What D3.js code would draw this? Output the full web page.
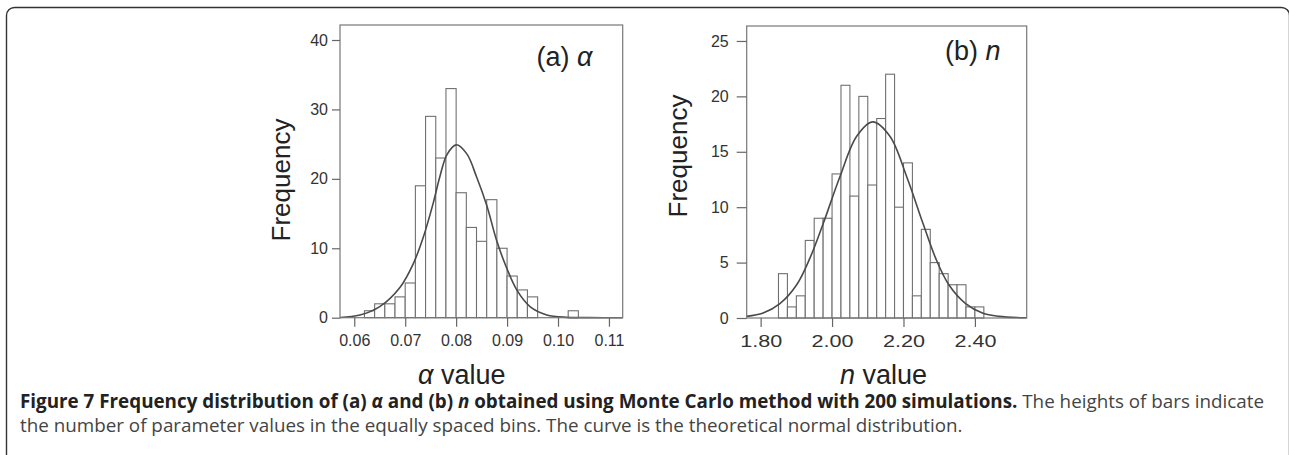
<!DOCTYPE html>
<html><head><meta charset="utf-8">
<script src="https://cdn.jsdelivr.net/npm/d3@7/dist/d3.min.js"></script>
<style>
body{margin:0;background:#fff;}
svg{display:block;}
</style>
</head><body>
<svg id="chart" width="1289" height="455"></svg>
<script>
// ---------- data ----------
// (a) alpha histogram: bin starts (bin width 0.002) and counts
const alphaBinStarts = [0.062,0.064,0.066,0.068,0.070,0.072,0.074,0.076,0.078,0.080,0.082,0.084,0.086,0.088,0.090,0.092,0.094,0.102];
const alphaCounts    = [1,2,2,3,5,19,29,23,33,18,13,11,17,10,6,4,3,1];
const alphaBinWidth  = 0.002;
// fitted normal curve
const alphaCurveX = [0.0572,0.0611,0.0650,0.0690,0.0716,0.0736,0.0755,0.0768,0.0782,0.0800,0.0821,0.0840,0.0860,0.0880,0.0899,0.0919,0.0945,0.0978,0.1017,0.1060,0.1127];
const alphaCurveY = [0.03,0.38,1.6,4.4,7.8,11.7,16.5,20.3,23.5,24.9,23.6,20.3,16.2,11.0,7.2,4.0,1.6,0.4,0.05,0.01,0];
const alphaXTicks = [0.06,0.07,0.08,0.09,0.10,0.11];
const alphaXTickLabels = ["0.06","0.07","0.08","0.09","0.10","0.11"];
const alphaYTicks = [0,10,20,30,40];

// (b) n histogram: bin starts (bin width 0.025) and counts
const nBinStarts = [1.850,1.875,1.900,1.925,1.950,1.975,2.000,2.025,2.050,2.075,2.100,2.125,2.150,2.175,2.200,2.225,2.250,2.275,2.300,2.325,2.350,2.375,2.400];
const nCounts    = [4,1,2,7,9,9,13,21,11,20,12,18,22,10,14,2,8,5,4,3,3,1,1];
const nBinWidth  = 0.025;
const nCurveX = [1.761,1.807,1.854,1.901,1.938,1.975,2.022,2.069,2.114,2.162,2.209,2.255,2.290,2.327,2.374,2.421,2.467,2.545];
const nCurveY = [0.15,0.45,1.3,3.0,5.4,8.5,12.75,16.4,17.7,16.4,12.75,8.5,5.4,3.0,1.3,0.45,0.15,0.02];
const nXTicks = [1.80,2.00,2.20,2.40];
const nXTickLabels = ["1.80","2.00","2.20","2.40"];
const nYTicks = [0,5,10,15,20,25];

// ---------- drawing ----------
const svg = d3.select("#chart");
const FONT = "'Liberation Sans', Arial, sans-serif";
const TXT = "#333";

// outer rounded frame
svg.append("rect")
  .attr("x",6.5).attr("y",7.5).attr("width",1283).attr("height",480)
  .attr("rx",8).attr("ry",8)
  .attr("fill","none").attr("stroke","#333").attr("stroke-width",1.4);

function panel(cfg){
  const g = svg.append("g");
  const x = d3.scaleLinear().domain(cfg.xDomain).range([cfg.left, cfg.right]);
  const y = d3.scaleLinear().domain(cfg.yDomain).range([cfg.bottom, cfg.top]);

  // bars
  g.append("g").selectAll("rect").data(cfg.binStarts).join("rect")
    .attr("x",(d)=>x(d))
    .attr("width",(d)=>x(d+cfg.binWidth)-x(d))
    .attr("y",(d,i)=>y(cfg.counts[i]))
    .attr("height",(d,i)=>y(0)-y(cfg.counts[i]))
    .attr("fill","#fff").attr("stroke","#707070").attr("stroke-width",1.1);

  // curve
  const pts = cfg.curveX.map((v,i)=>[v,cfg.curveY[i]]);
  g.append("path").datum(pts)
    .attr("d", d3.line().x(d=>x(d[0])).y(d=>y(d[1])).curve(d3.curveCatmullRom.alpha(0.5)))
    .attr("fill","none").attr("stroke","#4a4a4a").attr("stroke-width",1.6);

  // frame
  g.append("rect")
    .attr("x",cfg.left).attr("y",cfg.top)
    .attr("width",cfg.right-cfg.left).attr("height",cfg.bottom-cfg.top)
    .attr("fill","none").attr("stroke","#777").attr("stroke-width",1.2);

  // axes
  const ax = g.append("g").attr("transform",`translate(0,${cfg.bottom})`)
    .call(d3.axisBottom(x).tickValues(cfg.xTicks)
      .tickFormat((d,i)=>cfg.xTickLabels[i]).tickSize(cfg.xTickSize).tickPadding(cfg.xTickPad).tickSizeOuter(0));
  const ay = g.append("g").attr("transform",`translate(${cfg.left},0)`)
    .call(d3.axisLeft(y).tickValues(cfg.yTicks).tickSize(cfg.yTickSize).tickPadding(cfg.yTickPad).tickSizeOuter(0));
  [ax,ay].forEach(a=>{
    a.select(".domain").remove();
    a.selectAll(".tick line").attr("stroke","#666").attr("stroke-width",1.2);
    a.selectAll(".tick text").attr("fill",TXT).style("font-family",FONT).style("font-size",cfg.tickFont+"px");
  });
  if (cfg.xLabelWidth) {
    ax.selectAll(".tick text").attr("textLength",cfg.xLabelWidth).attr("lengthAdjust","spacingAndGlyphs");
  }

  // panel label
  const lab = g.append("text").attr("x",cfg.labelX).attr("y",cfg.labelY)
    .attr("fill","#222").style("font-family",FONT).style("font-size","27px");
  lab.append("tspan").text(cfg.labelPrefix);
  lab.append("tspan").style("font-style","italic").text(cfg.labelSym);

  // x title
  const xt = g.append("text").attr("x",cfg.xTitleX).attr("y",cfg.xTitleY)
    .attr("fill","#222").style("font-family",FONT).style("font-size","27px");
  xt.append("tspan").style("font-style","italic").text(cfg.labelSym);
  xt.append("tspan").text(" value");

  // y title
  g.append("text")
    .attr("transform",`translate(${cfg.yTitleX},${cfg.yTitleY}) rotate(-90)`)
    .attr("text-anchor","middle")
    .attr("fill","#222").style("font-family",FONT).style("font-size","26px")
    .text("Frequency");
}

panel({
  left:340, right:622.7, top:25, bottom:317.7,
  xDomain:[0.0572,0.1127], yDomain:[0,42.16],
  binStarts:alphaBinStarts, counts:alphaCounts, binWidth:alphaBinWidth,
  curveX:alphaCurveX, curveY:alphaCurveY,
  xTicks:alphaXTicks, xTickLabels:alphaXTickLabels, yTicks:alphaYTicks,
  xTickSize:9, xTickPad:8, yTickSize:8, yTickPad:4, tickFont:16,
  labelX:536.5, labelY:66, labelPrefix:"(a) ", labelSym:"α",
  xTitleX:418, xTitleY:384, yTitleX:289.5, yTitleY:180
});

panel({
  left:746.7, right:1026.7, top:26, bottom:318,
  xDomain:[1.761,2.545], yDomain:[0,26.35],
  binStarts:nBinStarts, counts:nCounts, binWidth:nBinWidth,
  curveX:nCurveX, curveY:nCurveY,
  xTicks:nXTicks, xTickLabels:nXTickLabels, yTicks:nYTicks,
  xTickSize:9, xTickPad:9, yTickSize:10, yTickPad:8, tickFont:16, xLabelWidth:42,
  labelX:945, labelY:60, labelPrefix:"(b) ", labelSym:"n",
  xTitleX:840, xTitleY:384, yTitleX:686.5, yTitleY:156
});

// caption
const CAPFONT = "'Open Sans', 'Noto Sans', sans-serif";
const cap1 = svg.append("text").attr("x",20).attr("y",407.5)
  .style("font-family",CAPFONT).style("font-size","15px");
const boldParts = [["Figure 7 Frequency distribution of (a) ",false],["α",true],[" and (b) ",false],["n",true],[" obtained using Monte Carlo method with 200 simulations.",false]];
boldParts.forEach(([t,it])=>{
  const s = cap1.append("tspan").attr("fill","#222").style("font-weight","bold").text(t);
  if(it) s.style("font-style","italic");
});
cap1.append("tspan").attr("fill","#444").text(" The heights of bars indicate");
const cap2 = svg.append("text").attr("x",20).attr("y",432)
  .attr("fill","#444").style("font-family",CAPFONT).style("font-size","15px")
  .text("the number of parameter values in the equally spaced bins. The curve is the theoretical normal distribution.");
// fit caption size to the reference line length
const w1 = cap1.node().getComputedTextLength();
const fs = 15 * 1245 / w1;
cap1.style("font-size", fs + "px");
cap2.style("font-size", fs + "px");
</script>
</body></html>
